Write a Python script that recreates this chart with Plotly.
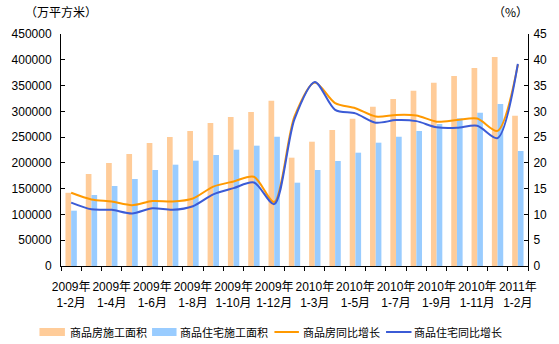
import plotly.graph_objects as go

periods = (["2009年<br>1-%d月" % m for m in range(2, 13)]
           + ["2010年<br>1-%d月" % m for m in range(2, 13)]
           + ["2011年<br>1-2月"])

area_all = [142000, 178500, 199800, 217300, 238600, 250300, 261900, 277400, 289100, 298800, 320700,
            210100, 241100, 263800, 285800, 309000, 324000, 340100, 355600, 368600, 384100, 405400,
            291600]
area_res = [107300, 137700, 155200, 168800, 186200, 196500, 204300, 215300, 225600, 233400, 250800,
            161600, 186200, 203700, 219800, 239200, 250800, 261900, 275500, 286500, 297400, 314300,
            223100]
yoy_all = [14.2, 12.9, 12.5, 11.8, 12.6, 12.5, 13.1, 15.4, 16.4, 17.3, 12.4,
           29.0, 35.6, 31.6, 30.6, 29.0, 29.3, 29.2, 28.0, 28.3, 28.6, 26.2, 39.0]
yoy_res = [12.3, 11.0, 10.9, 10.2, 11.2, 10.9, 11.6, 13.9, 15.1, 16.2, 12.0,
           28.5, 35.7, 30.3, 29.6, 27.8, 28.3, 28.1, 26.9, 26.8, 27.2, 24.8, 39.2]

tick_idx = [0, 2, 4, 6, 8, 10, 12, 14, 16, 18, 20, 22]
series_names = ["商品房施工面积", "商品住宅施工面积", "商品房同比增长", "商品住宅同比增长"]
colors = ["#FFCC99", "#99CCFF", "#FF9900", "#3B5BD6"]

x = list(range(len(periods)))
FONT = "Liberation Sans, Arial, Noto Sans CJK SC, sans-serif"

L, R, T, B = 55, 27, 34, 78
W, H = 559, 344
PW, PH = W - L - R, H - T - B


def px(xp):
    return (xp - L) / PW


def py(yp):
    return (H - B - yp) / PH


fig = go.Figure()
fig.add_trace(go.Bar(x=x, y=area_all, name=series_names[0], marker_color=colors[0],
                     marker_line_width=0))
fig.add_trace(go.Bar(x=x, y=area_res, name=series_names[1], marker_color=colors[1],
                     marker_line_width=0))
fig.add_trace(go.Scatter(x=x, y=yoy_all, name=series_names[2], yaxis="y2", mode="lines",
                         line=dict(color=colors[2], width=2, shape="spline", smoothing=0.8)))
fig.add_trace(go.Scatter(x=x, y=yoy_res, name=series_names[3], yaxis="y2", mode="lines",
                         line=dict(color=colors[3], width=2, shape="spline", smoothing=0.8)))

fig.update_layout(
    width=W, height=H,
    margin=dict(l=L, r=R, t=T, b=B),
    paper_bgcolor="white", plot_bgcolor="white",
    font=dict(family=FONT, size=12, color="black"),
    barmode="group", bargap=0.44, bargroupgap=0,
    showlegend=False,
    xaxis=dict(range=[-0.5, 22.5], tickmode="array", tickvals=tick_idx,
               ticktext=[periods[i] for i in tick_idx], ticks="", showgrid=False,
               showline=True, linecolor="black", linewidth=1, tickangle=0,
               ticklabelstandoff=10,
               minor=dict(tick0=-0.5, dtick=1, ticks="outside", ticklen=4,
                          tickcolor="black", showgrid=False),
               zeroline=False),
    yaxis=dict(range=[0, 450000], dtick=50000, tickformat="d", showgrid=False,
               showline=True, linecolor="black", linewidth=1, ticks="inside",
               ticklen=4, tickcolor="black", zeroline=False, ticklabelstandoff=6),
    yaxis2=dict(range=[0, 45], dtick=5, overlaying="y", side="right", showgrid=False,
                showline=True, linecolor="black", linewidth=1, ticks="inside",
                ticklen=4, tickcolor="black", zeroline=False, ticklabelstandoff=2),
)

# units
fig.add_annotation(text="（万平方米）", xref="paper", yref="paper",
                   x=px(55), y=py(11), xanchor="center", yanchor="middle",
                   showarrow=False, font=dict(size=12, family="Noto Sans CJK SC"))
fig.add_annotation(text="（%）", xref="paper", yref="paper",
                   x=px(514), y=py(11), xanchor="center", yanchor="middle",
                   showarrow=False, font=dict(size=12, family="Noto Sans CJK SC"))

# custom legend
ly = 332
swatches = [(33, 59, "bar"), (148, 173, "bar"), (273, 298, "line"), (387, 413, "line")]
text_x = [62, 175, 300, 414]
for (x0, x1, kind), tx, name, col in zip(swatches, text_x, series_names, colors):
    if kind == "bar":
        fig.add_shape(type="rect", xref="paper", yref="paper",
                      x0=px(x0), x1=px(x1), y0=py(ly + 4), y1=py(ly - 4),
                      fillcolor=col, line=dict(width=0))
    else:
        fig.add_shape(type="line", xref="paper", yref="paper",
                      x0=px(x0), x1=px(x1), y0=py(ly), y1=py(ly),
                      line=dict(color=col, width=2))
    fig.add_annotation(text=name, xref="paper", yref="paper", x=px(tx), y=py(ly),
                       xanchor="left", yanchor="middle", showarrow=False,
                       font=dict(size=11, family="Noto Sans CJK SC"))

fig.write_html("out.html")
